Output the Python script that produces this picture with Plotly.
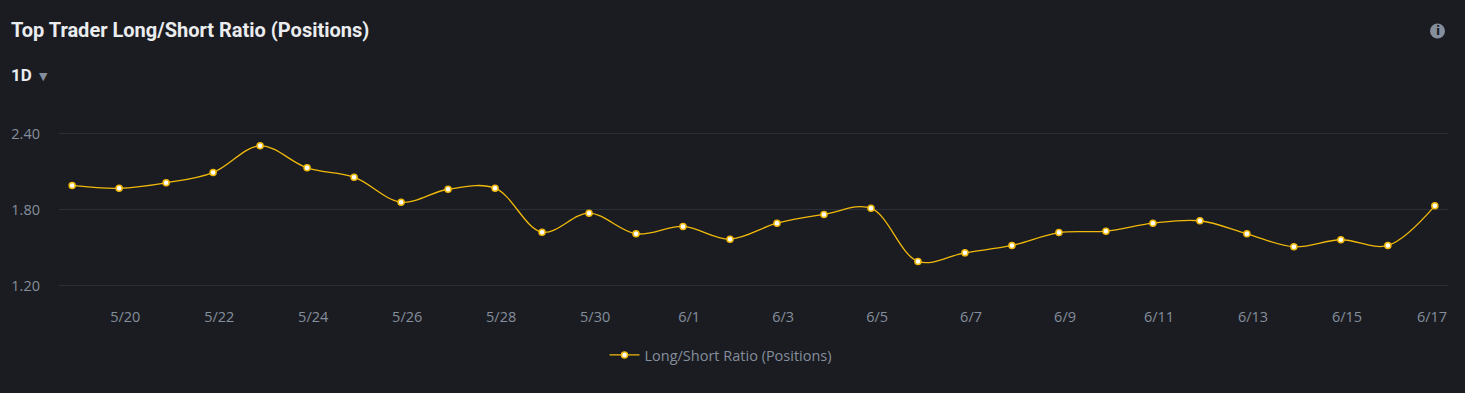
import plotly.graph_objects as go

dates = ["5/19", "5/20", "5/21", "5/22", "5/23", "5/24", "5/25", "5/26", "5/27", "5/28",
         "5/29", "5/30", "5/31", "6/1", "6/2", "6/3", "6/4", "6/5", "6/6", "6/7",
         "6/8", "6/9", "6/10", "6/11", "6/12", "6/13", "6/14", "6/15", "6/16", "6/17"]
ratio = [1.99, 1.968, 2.011, 2.092, 2.303, 2.129, 2.055, 1.858, 1.960, 1.968,
         1.621, 1.771, 1.608, 1.666, 1.566, 1.692, 1.761, 1.810, 1.390, 1.458,
         1.516, 1.618, 1.629, 1.692, 1.711, 1.608, 1.505, 1.561, 1.516, 1.829]
tick_labels = dates[1::2]
y_ticks = [1.20, 1.80, 2.40]

BG = "#1b1c21"
GRID = "#2b2f36"
TXT = "#848e9c"
YEL = "#f0b90b"

W, H = 1465, 393
L, R, T, B = 59, 17, 131, 105
pw, ph = W - L - R, H - T - B

def px_x(x):
    return (x - L) / pw

def px_y(y):
    return (H - B - y) / ph

xi = list(range(len(dates)))
x_range = [-0.28, len(dates) - 1 + 0.28]
label_shift = 0.13  # tick labels sit slightly right of the daily points
tick_pos = [dates.index(t) + label_shift for t in tick_labels]
tick_pos[-1] = dates.index(tick_labels[-1]) - 0.06  # last label kept inside the plot

fig = go.Figure()
fig.add_trace(go.Scatter(
    x=xi, y=ratio, mode="lines+markers", name="Long/Short Ratio (Positions)",
    text=dates, hovertemplate="%{text}: %{y:.4f}<extra></extra>",
    line=dict(color=YEL, width=1.3, shape="spline", smoothing=1.0),
    marker=dict(color="#ffffff", size=6, line=dict(color=YEL, width=1.5)),
))

fig.update_layout(
    width=W, height=H,
    paper_bgcolor=BG, plot_bgcolor=BG,
    margin=dict(l=L, r=R, t=T, b=B),
    font=dict(family="Open Sans, sans-serif", color=TXT, size=14.5),
    showlegend=True,
    legend=dict(orientation="h", x=px_x(721), xanchor="center", y=px_y(355), yanchor="middle",
                font=dict(size=14.5, color=TXT), bgcolor="rgba(0,0,0,0)", itemwidth=30),
    xaxis=dict(range=x_range,
               tickmode="array", tickvals=tick_pos, ticktext=tick_labels,
               showgrid=False, zeroline=False, showline=False, ticks="",
               tickfont=dict(size=14.5, color=TXT), ticklabelstandoff=18),
    yaxis=dict(range=[1.18, 2.42], tickvals=y_ticks, ticktext=[f"{v:.2f}" for v in y_ticks],
               showgrid=True, gridcolor=GRID, gridwidth=1, zeroline=False, showline=False,
               ticks="", tickfont=dict(size=14.5, color=TXT), ticklabelstandoff=18),
)

fig.add_annotation(text="<b>Top Trader Long/Short Ratio (Positions)</b>", xref="paper", yref="paper",
                   x=px_x(9), y=px_y(30), xanchor="left", yanchor="middle", showarrow=False,
                   font=dict(family="Roboto, sans-serif", size=20, color="#eaecef"))
fig.add_annotation(text="<b>1D</b>", xref="paper", yref="paper",
                   x=px_x(9), y=px_y(75), xanchor="left", yanchor="middle", showarrow=False,
                   font=dict(family="Roboto, sans-serif", size=17, color="#eaecef"))
fig.add_annotation(text="▼", xref="paper", yref="paper",
                   x=px_x(43.5), y=px_y(76), xanchor="center", yanchor="middle", showarrow=False,
                   font=dict(family="DejaVu Sans, sans-serif", size=11, color=TXT))

# info icon
fig.add_shape(type="circle", xref="paper", yref="paper", xsizemode="pixel", ysizemode="pixel",
              xanchor=px_x(1437.5), yanchor=px_y(31), x0=-7.5, x1=7.5, y0=-7.5, y1=7.5,
              fillcolor=TXT, line=dict(width=0))
fig.add_annotation(text="<b>i</b>", xref="paper", yref="paper",
                   x=px_x(1437.5), y=px_y(31), xanchor="center", yanchor="middle", showarrow=False,
                   font=dict(family="DejaVu Sans, sans-serif", size=12, color=BG))

fig.write_html("out.html", config={"displayModeBar": False},
               post_script="document.body.style.margin='0';document.body.style.background='" + BG + "';")
